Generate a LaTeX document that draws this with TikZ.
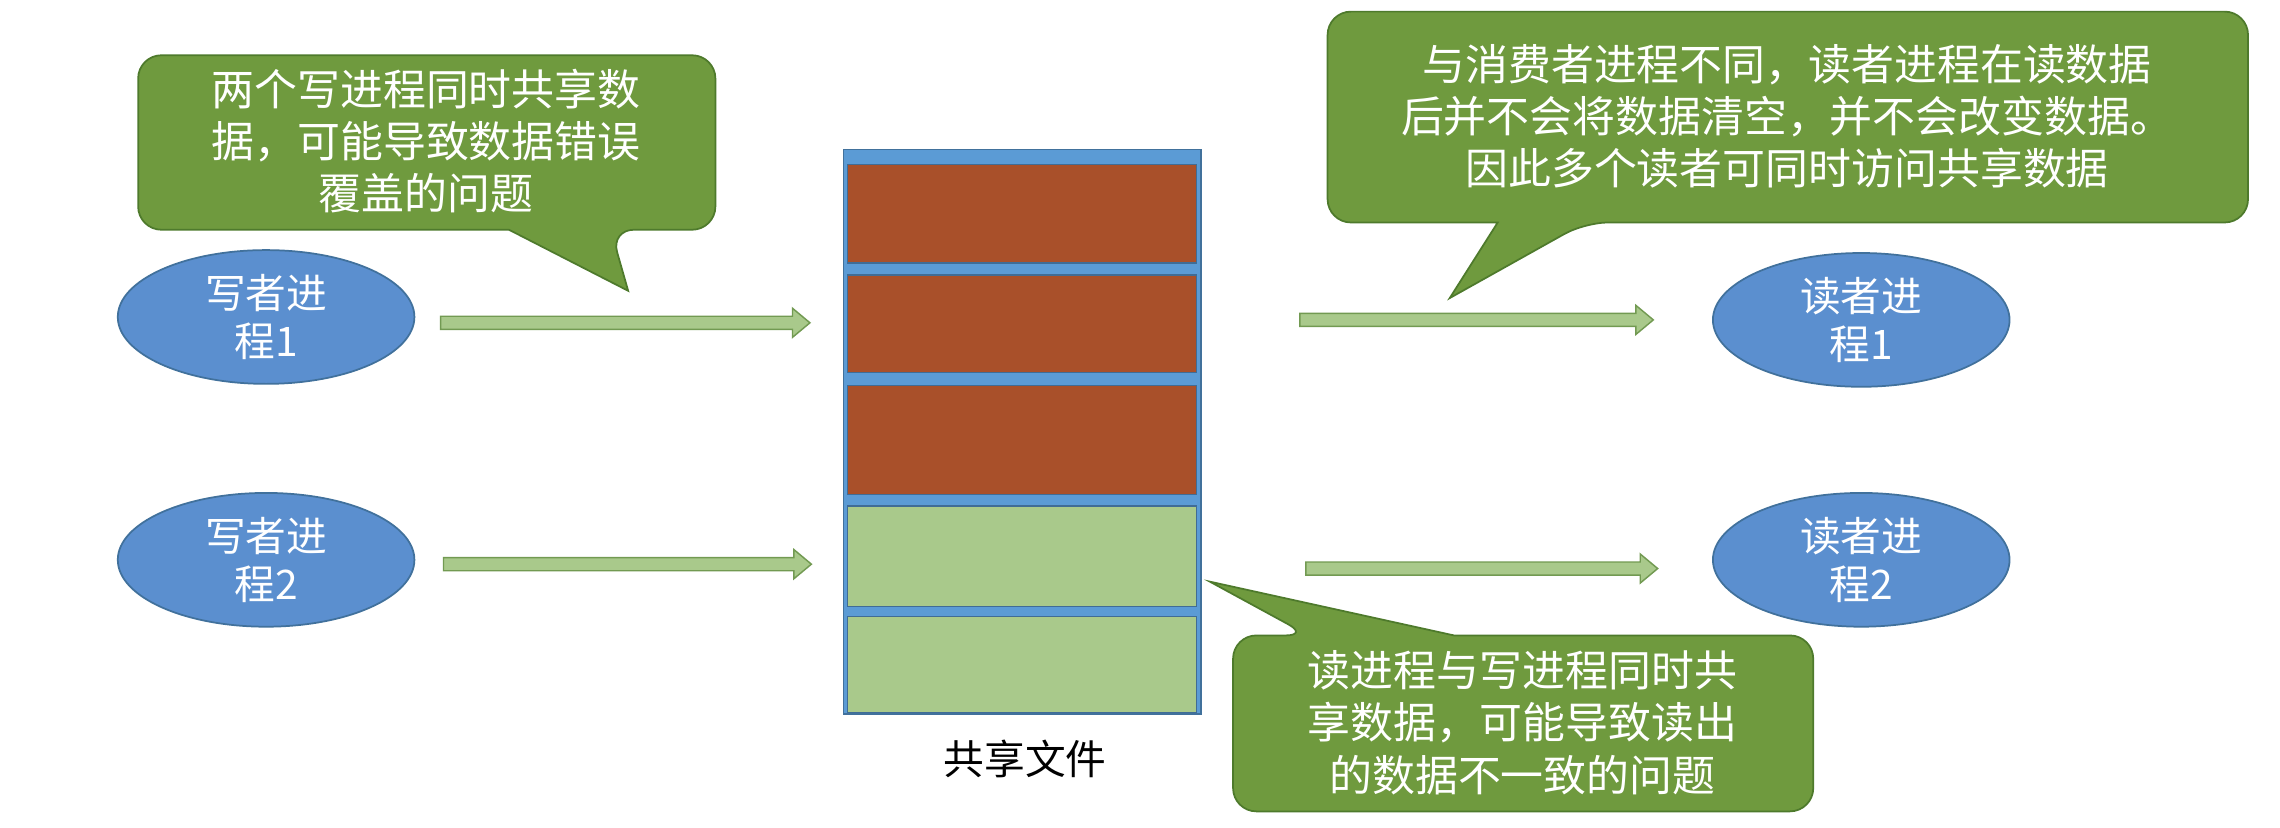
\documentclass[tikz,border=0pt]{standalone}
\usepackage{fontspec}
\setmainfont{Noto Sans CJK SC}
\usetikzlibrary{shapes.geometric}
\definecolor{cg}{HTML}{6F9A3E}
\definecolor{cgb}{HTML}{4E7A2C}
\definecolor{eb}{HTML}{5B8FCF}
\definecolor{ebb}{HTML}{41719C}
\definecolor{br}{HTML}{A9502A}
\definecolor{lg}{HTML}{A9C98B}
\definecolor{sb}{HTML}{5B9BD5}
\tikzset{
 proc/.style={ellipse,fill=eb,draw=ebb,line width=1.2pt,minimum width=204pt,minimum height=92pt,inner sep=0pt,text=white,align=center,font=\fontsize{28}{33}\selectfont},
 callout/.style={fill=cg,draw=cgb,line width=1.2pt},
 ctext/.style={text=white,align=center,font=\fontsize{29.5}{36}\selectfont},
 blk/.style={draw=sb!70!black,line width=1pt},
 garr/.style={fill=lg,draw=cgb!60!lg,line width=1pt}
}
\newcommand{\garrow}[3]{\path[garr] (#1,#2-4.5) -- (#3-12,#2-4.5) -- (#3-12,#2-10) -- (#3,#2) -- (#3-12,#2+10) -- (#3-12,#2+4.5) -- (#1,#2+4.5) -- cycle;}
\begin{document}
\begin{tikzpicture}[x=1pt,y=-1pt]
\useasboundingbox[fill=white] (0,0) rectangle (1568,569);
\draw[callout,rounded corners=16] (95,38) -- (492,38) -- (492,158) -- (420,158) [sharp corners]-- (432,200) -- (350,158) [rounded corners=16]-- (95,158) -- cycle;
\node[ctext] (c1) at (293,97) {两个写进程同时共享数\\据，可能导致数据错误\\覆盖的问题};
\draw[callout,rounded corners=16] (913,8) -- (1546,8) -- (1546,153) -- (1090,153) [sharp corners]-- (997,205) -- (1030,153) [rounded corners=16]-- (913,153) -- cycle;
\node[ctext] (c2) at (1229,80) {与消费者进程不同，读者进程在读数据\\后并不会将数据清空，并不会改变数据。\\因此多个读者可同时访问共享数据};
\draw[callout,rounded corners=16] (1000,437) -- (1247,437) -- (1247,558) -- (848,558) -- (848,437) -- (900,437) [sharp corners]-- (832,400) -- cycle;
\node[ctext] (c3) at (1047,497) {读进程与写进程同时共\\享数据，可能导致读出\\的数据不一致的问题};
\node[proc] (w1) at (183,218) {写者进\\程1};
\node[proc] (w2) at (183,385) {写者进\\程2};
\node[proc] (r1) at (1280,220) {读者进\\程1};
\node[proc] (r2) at (1280,385) {读者进\\程2};
\node[draw=ebb,fill=sb,line width=1pt,minimum width=246pt,minimum height=388pt,inner sep=0pt] (file) at (703,297) {};
\fill[br,blk] (583,113) rectangle (823,181);
\fill[br,blk] (583,189) rectangle (823,256);
\fill[br,blk] (583,265) rectangle (823,340);
\fill[lg,blk] (583,348) rectangle (823,417);
\fill[lg,blk] (583,424) rectangle (823,490);
\node[font=\fontsize{28}{33}\selectfont] (lbl) at (705,522) {共享文件};
\garrow{303}{222}{557}
\garrow{305}{388}{558}
\garrow{894}{220}{1137}
\garrow{898}{391}{1140}
\end{tikzpicture}
\end{document}
